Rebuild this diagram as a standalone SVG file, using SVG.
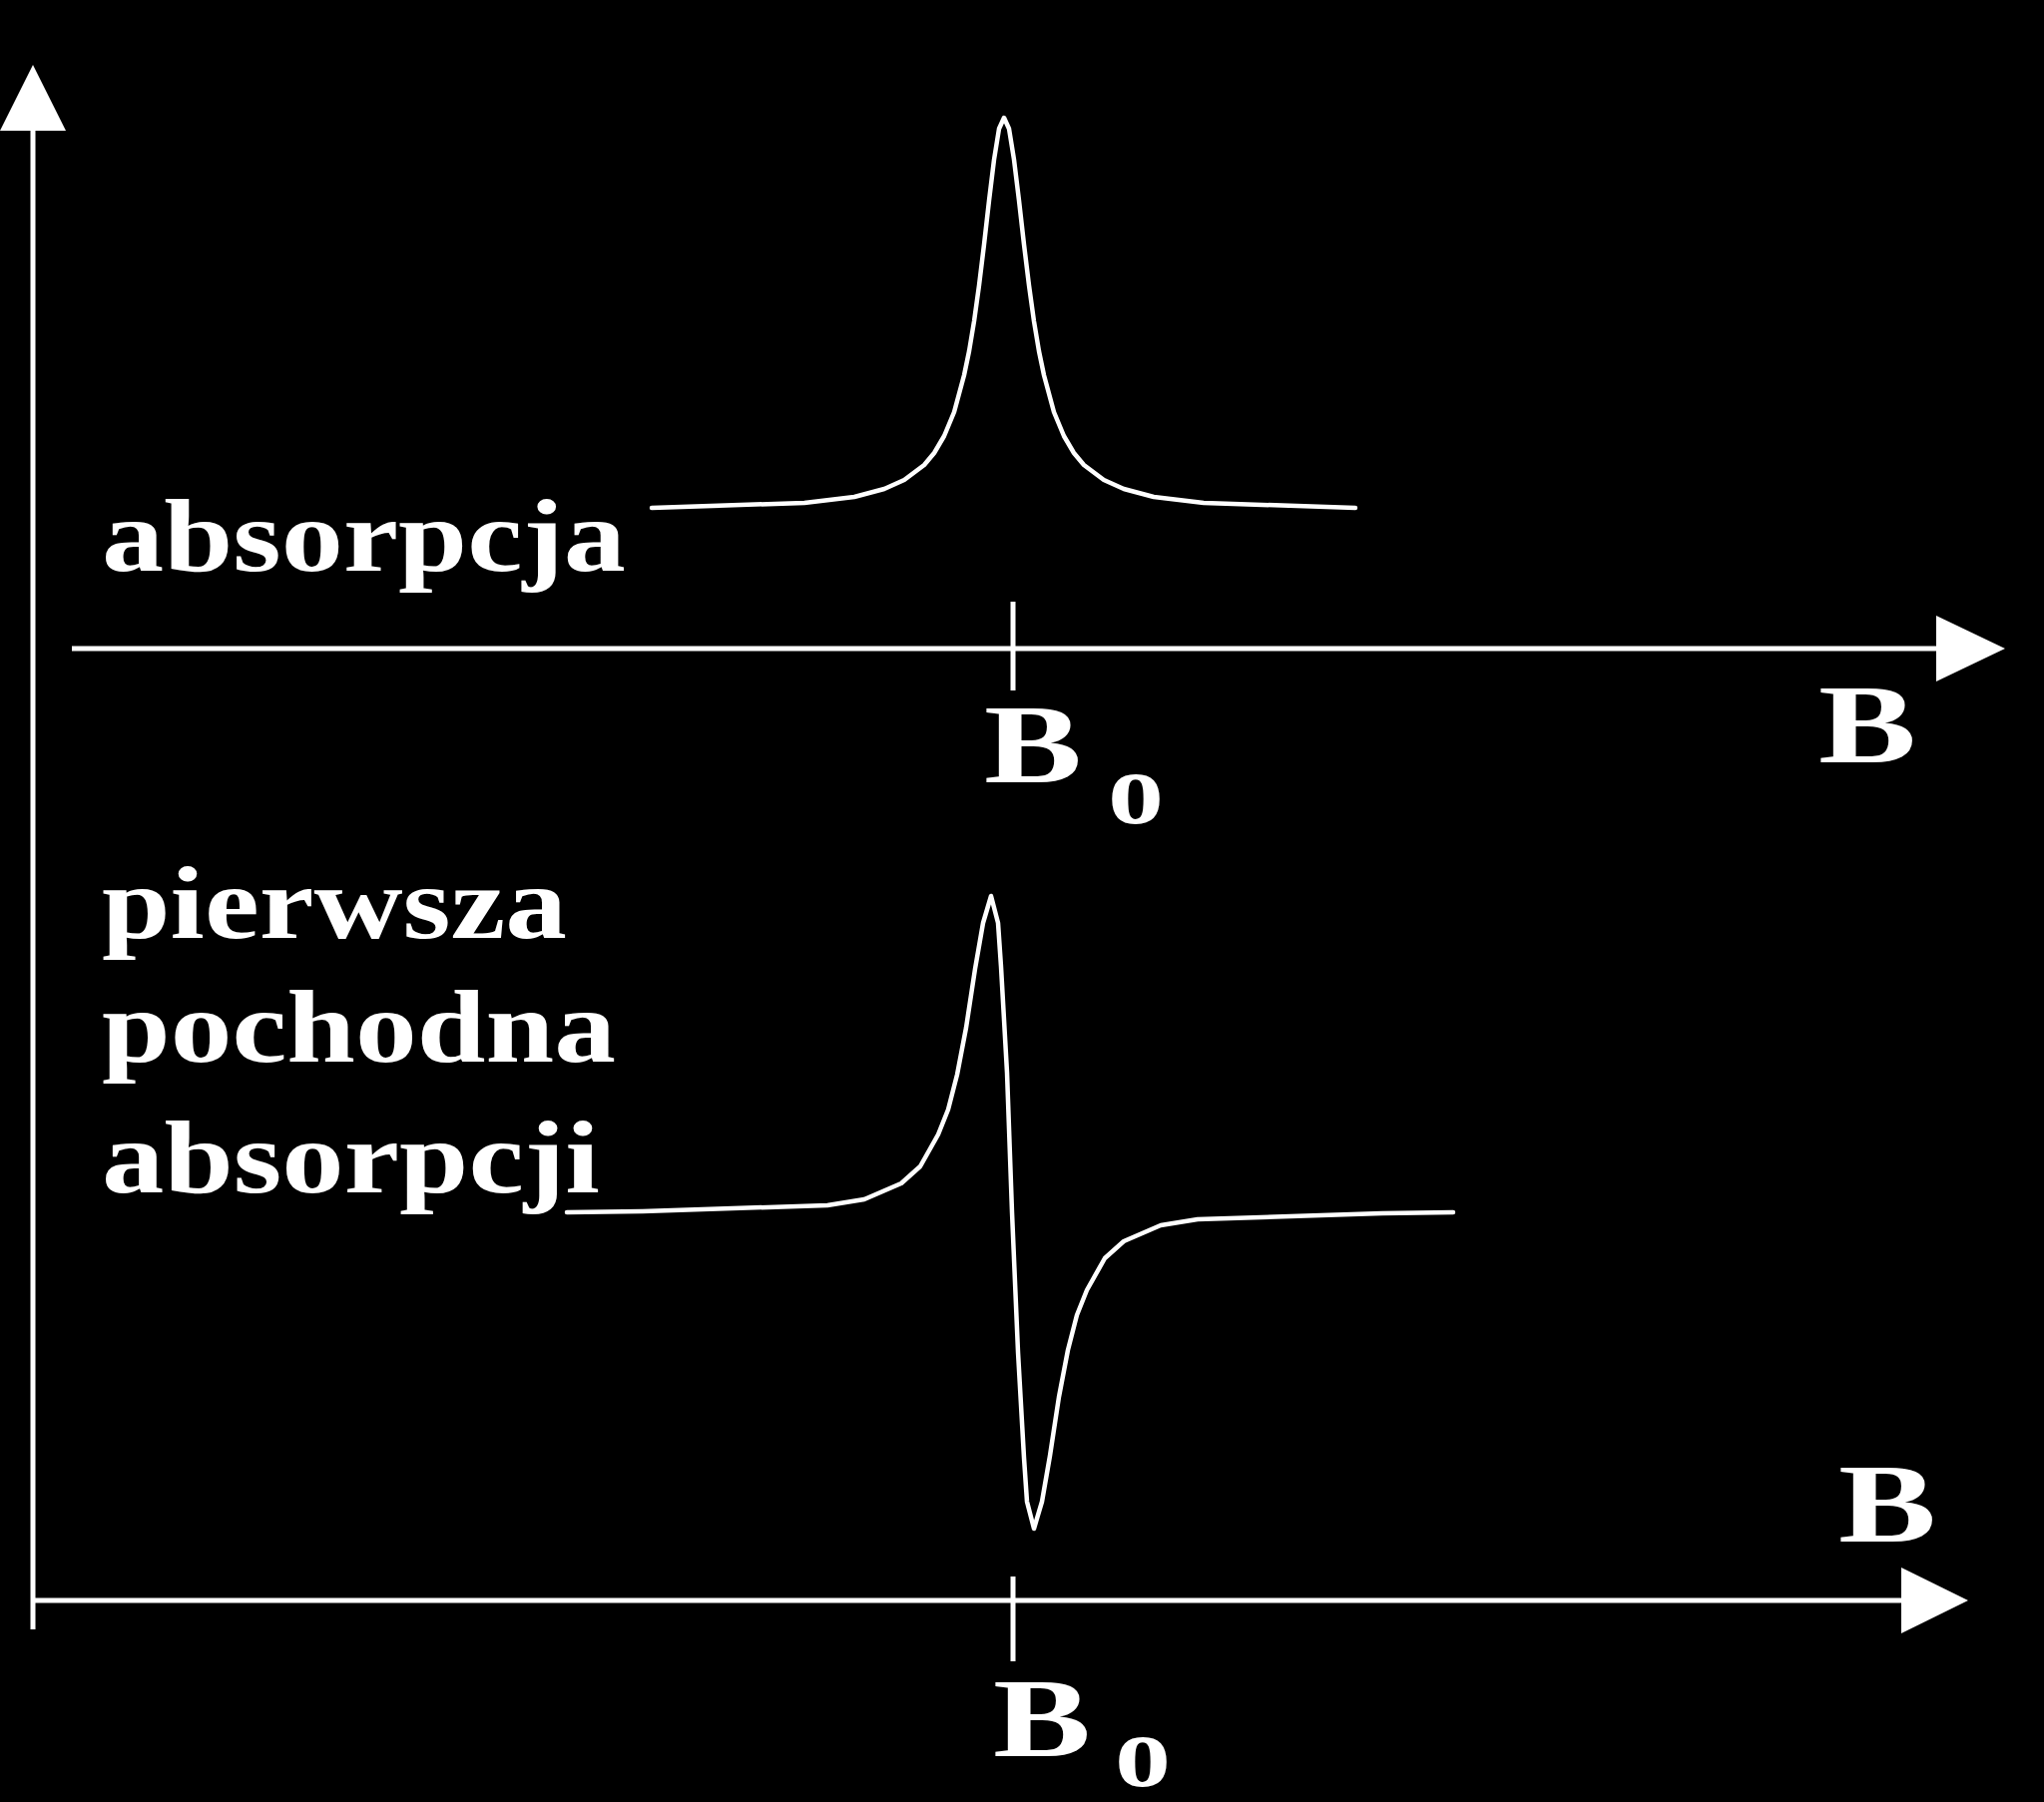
<svg xmlns="http://www.w3.org/2000/svg" width="2048" height="1806" viewBox="0 0 2048 1806">
<style>
.ax{stroke:#fff;stroke-width:5;fill:none}
.cv{stroke:#fff;stroke-width:4.5;fill:none;stroke-linejoin:round;stroke-linecap:round}
text{fill:#fff;font-family:"Liberation Serif",serif;font-weight:bold}
.lb{font-size:104px}
.bb{font-size:112px}
</style>
<rect width="2048" height="1806" fill="#000"/>
<g id="connectors">
<line class="ax" x1="33" y1="1633" x2="33" y2="125"/>
<polygon fill="#fff" points="33,65 0,131 66,131"/>
<line class="ax" x1="72" y1="650" x2="1945" y2="650"/>
<polygon fill="#fff" points="2009,650 1940,617 1940,683"/>
<line class="ax" x1="1015" y1="603" x2="1015" y2="692"/>
<line class="ax" x1="33" y1="1604" x2="1910" y2="1604"/>
<polygon fill="#fff" points="1972,1604 1905,1571 1905,1637"/>
<line class="ax" x1="1015" y1="1580" x2="1015" y2="1665"/>
</g>
<g id="absorption">
<polyline class="cv" points="653,509 806,504 856,498 886,490 906,481 926,466 936,454 946,437 956,413 966,376 971,352 976,322 981,286 986,245 991,201 996,160 1001,129 1006,118 1011,129 1016,160 1021,201 1026,245 1031,286 1036,322 1041,352 1046,376 1056,413 1066,437 1076,454 1086,466 1106,481 1126,490 1156,498 1206,504 1358,509"/>
<text class="lb" x="102" y="572" textLength="525" lengthAdjust="spacingAndGlyphs">absorpcja</text>
</g>
<g id="derivative">
<polyline class="cv" points="568,1215 644,1214 829,1208 866,1202 903,1186 922,1169 940,1137 950,1112 959,1077 968,1030 977,971 985,925 993,898 1000,925 1003,969 1009,1075 1014,1215 1020,1355 1026,1461 1029,1505 1036,1532 1044,1505 1052,1459 1061,1400 1070,1353 1079,1318 1089,1293 1107,1261 1126,1244 1163,1228 1200,1222 1385,1216 1456,1215"/>
<text class="lb" x="102" y="940" textLength="466" lengthAdjust="spacingAndGlyphs">pierwsza</text>
<text class="lb" x="102" y="1064" textLength="515" lengthAdjust="spacingAndGlyphs">pochodna</text>
<text class="lb" x="102" y="1195" textLength="499" lengthAdjust="spacingAndGlyphs">absorpcji</text>
</g>
<g id="labels">
<text class="bb" x="1822" y="764" textLength="98" lengthAdjust="spacingAndGlyphs">B</text>
<text class="bb" x="986" y="784" textLength="98" lengthAdjust="spacingAndGlyphs">B</text>
<text class="lb" x="1110" y="825" textLength="56" lengthAdjust="spacingAndGlyphs">o</text>
<text class="bb" x="1842" y="1545" textLength="98" lengthAdjust="spacingAndGlyphs">B</text>
<text class="bb" x="995" y="1760" textLength="98" lengthAdjust="spacingAndGlyphs">B</text>
<text class="lb" x="1117" y="1790" textLength="56" lengthAdjust="spacingAndGlyphs">o</text>
</g>
</svg>
